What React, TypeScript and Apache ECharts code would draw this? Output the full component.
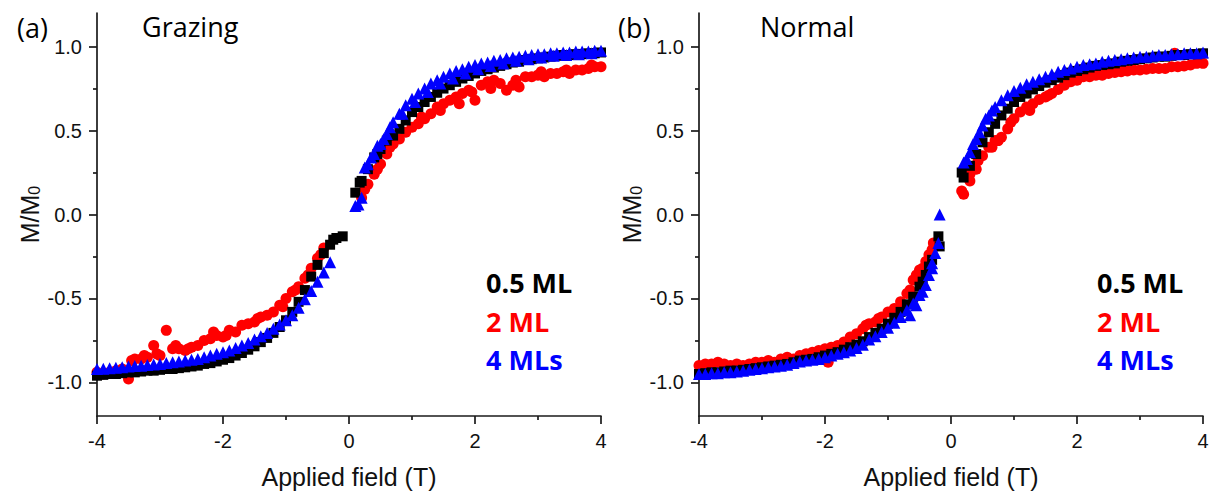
import React, { useEffect, useRef } from "react";
import * as echarts from "echarts";

// Applied field values (T), shared by all series
const fields = [
  -4.0, -3.9, -3.8, -3.7, -3.6, -3.5, -3.4, -3.3, -3.2, -3.1,
  -3.0, -2.9, -2.8, -2.7, -2.6, -2.5, -2.4, -2.3, -2.2, -2.1,
  -2.0, -1.9, -1.8, -1.7, -1.6, -1.5, -1.4, -1.3, -1.2, -1.1,
  -1.0, -0.9, -0.8, -0.7, -0.6, -0.5, -0.4, -0.3, -0.2, -0.1,
  0.1, 0.2, 0.3, 0.4, 0.5, 0.6, 0.7, 0.8, 0.9, 1.0,
  1.1, 1.2, 1.3, 1.4, 1.5, 1.6, 1.7, 1.8, 1.9, 2.0,
  2.1, 2.2, 2.3, 2.4, 2.5, 2.6, 2.7, 2.8, 2.9, 3.0,
  3.1, 3.2, 3.3, 3.4, 3.5, 3.6, 3.7, 3.8, 3.9, 4.0,
];

// (a) Grazing
const grazingBlack = [
  -0.96, -0.955, -0.95, -0.95, -0.945, -0.94, -0.94, -0.935, -0.93, -0.93,
  -0.925, -0.92, -0.92, -0.915, -0.91, -0.905, -0.9, -0.89, -0.885, -0.875,
  -0.865, -0.855, -0.84, -0.825, -0.805, -0.785, -0.76, -0.735, -0.705, -0.67,
  -0.63, -0.58, -0.52, -0.45, -0.37, -0.3, -0.23, -0.18, -0.14, -0.13,
  0.13, 0.2, 0.27, 0.34, 0.39, 0.44, 0.47, 0.51, 0.56, 0.61,
  0.64, 0.67, 0.7, 0.725, 0.75, 0.77, 0.79, 0.81, 0.825, 0.84,
  0.855, 0.865, 0.875, 0.885, 0.895, 0.905, 0.91, 0.92, 0.925, 0.93,
  0.935, 0.94, 0.945, 0.95, 0.95, 0.955, 0.955, 0.96, 0.96, 0.965,
];
const grazingRed = [
  -0.94, -0.95, -0.94, -0.93, -0.92, -0.98, -0.86, -0.86, -0.85, -0.78,
  -0.84, -0.69, -0.8, -0.8, -0.81, -0.79, -0.78, -0.75, -0.74, -0.72,
  -0.73, -0.69, -0.7, -0.66, -0.65, -0.64, -0.61, -0.6, -0.58, -0.54,
  -0.5, -0.46, -0.43, -0.38, -0.32, -0.26, -0.2, null, null, null,
  null, 0.1, 0.18, 0.24, 0.3, 0.36, 0.42, 0.45, 0.49, 0.52,
  0.54, 0.57, 0.6, 0.64, 0.66, 0.68, 0.7, 0.72, 0.74, 0.68,
  0.77, 0.79, 0.8, 0.78, 0.74, 0.77, 0.76, 0.82, 0.82, 0.83,
  0.82, 0.84, 0.84, 0.85, 0.84, 0.86, 0.86, 0.87, 0.88, 0.88,
];
const grazingBlue = [
  -0.92, -0.918, -0.915, -0.912, -0.91, -0.905, -0.902, -0.9, -0.897, -0.893,
  -0.89, -0.885, -0.88, -0.875, -0.87, -0.865, -0.86, -0.85, -0.84, -0.83,
  -0.82, -0.81, -0.795, -0.78, -0.765, -0.745, -0.725, -0.705, -0.68, -0.655,
  -0.63, -0.6, -0.555, -0.505, -0.455, -0.4, -0.345, -0.285, null, null,
  0.05, 0.1, 0.3, 0.36, 0.42, 0.48, 0.55, 0.6, 0.65, 0.69,
  0.72, 0.75, 0.78, 0.8, 0.82, 0.84, 0.855, 0.865, 0.88, 0.89,
  0.9, 0.905, 0.915, 0.92, 0.93, 0.935, 0.94, 0.945, 0.95, 0.955,
  0.955, 0.96, 0.96, 0.965, 0.965, 0.97, 0.97, 0.97, 0.975, 0.975,
];
const grazingBlackExtra = [[0.17, 0.19], [-0.25, -0.15], [0.45, 0.36]];
const grazingRedExtra = [
  [-3.45, -0.87], [-3.25, -0.84], [-3.05, -0.83], [-2.75, -0.78], [-2.55, -0.8],
  [-2.15, -0.7], [-1.95, -0.72], [-1.45, -0.62], [-1.05, -0.55], [-0.85, -0.45],
  [-0.65, -0.36], [-0.45, -0.24], [0.25, 0.15], [0.45, 0.27], [0.65, 0.4],
  [1.15, 0.58], [1.45, 0.62], [1.75, 0.66], [1.95, 0.73], [2.25, 0.75],
  [2.65, 0.8], [3.05, 0.85], [3.45, 0.86], [3.85, 0.89],
];
const grazingBlueExtra = [
  [0.15, 0.06], [0.25, 0.28], [0.35, 0.34], [0.45, 0.41], [0.55, 0.45],
  [0.65, 0.52], [0.85, 0.6], [1.05, 0.67], [1.25, 0.73], [1.45, 0.78],
  [1.65, 0.81], [1.85, 0.84], [2.05, 0.865], [2.25, 0.885], [2.45, 0.9],
  [2.65, 0.915], [2.85, 0.925], [3.05, 0.935], [3.25, 0.945], [3.45, 0.95],
  [3.65, 0.955], [3.85, 0.96],
];

// (b) Normal
const normalBlack = [
  -0.95, -0.945, -0.94, -0.94, -0.935, -0.93, -0.93, -0.925, -0.92, -0.915,
  -0.91, -0.905, -0.9, -0.895, -0.89, -0.88, -0.87, -0.865, -0.86, -0.85,
  -0.84, -0.83, -0.82, -0.805, -0.79, -0.775, -0.755, -0.73, -0.705, -0.68,
  -0.65, -0.615, -0.58, -0.535, -0.49, -0.43, -0.36, -0.27, -0.13, null,
  null, 0.22, 0.29, 0.36, 0.43, 0.49, 0.54, 0.59, 0.63, 0.67,
  0.7, 0.72, 0.745, 0.765, 0.785, 0.8, 0.815, 0.83, 0.845, 0.855,
  0.865, 0.875, 0.885, 0.89, 0.895, 0.9, 0.91, 0.915, 0.92, 0.925,
  0.93, 0.935, 0.94, 0.94, 0.945, 0.95, 0.95, 0.955, 0.955, 0.96,
];
const normalRed = [
  -0.9, -0.89, -0.89, -0.88, -0.89, -0.9, -0.89, -0.9, -0.89, -0.88,
  -0.88, -0.87, -0.88, -0.86, -0.85, -0.86, -0.84, -0.83, -0.82, -0.81,
  -0.8, -0.79, -0.78, -0.76, -0.73, -0.71, -0.68, -0.65, -0.64, -0.61,
  -0.58, -0.56, -0.52, -0.47, -0.39, -0.33, -0.28, -0.21, null, null,
  null, 0.12, 0.2, 0.27, 0.35, 0.4, 0.44, 0.46, 0.51, 0.57,
  0.61, 0.64, 0.66, 0.685, 0.7, 0.72, 0.745, 0.77, 0.79, 0.8,
  0.82, 0.82, 0.83, 0.83, 0.84, 0.845, 0.85, 0.855, 0.86, 0.86,
  0.865, 0.87, 0.87, 0.87, 0.88, 0.88, 0.885, 0.89, 0.9, 0.9,
];
const normalBlue = [
  -0.95, -0.95, -0.945, -0.945, -0.94, -0.94, -0.935, -0.93, -0.925, -0.92,
  -0.915, -0.91, -0.905, -0.9, -0.895, -0.885, -0.875, -0.87, -0.865, -0.86,
  -0.85, -0.84, -0.83, -0.82, -0.81, -0.795, -0.775, -0.745, -0.725, -0.7,
  -0.675, -0.645, -0.61, -0.57, -0.53, -0.48, -0.42, -0.32, -0.17, null,
  null, 0.31, 0.37, 0.45, 0.53, 0.59, 0.64, 0.68, 0.71, 0.735,
  0.755, 0.775, 0.79, 0.805, 0.82, 0.835, 0.85, 0.86, 0.87, 0.88,
  0.89, 0.895, 0.9, 0.91, 0.915, 0.92, 0.925, 0.93, 0.935, 0.94,
  0.94, 0.945, 0.95, 0.95, 0.955, 0.955, 0.96, 0.96, 0.96, 0.965,
];
const normalBlackExtra = [[0.17, 0.25], [-0.18, -0.19], [-0.35, -0.31], [-0.45, -0.4]];
const normalRedExtra = [
  [-3.95, -0.93], [-3.55, -0.92], [-1.95, -0.88], [-1.35, -0.66], [-1.15, -0.62],
  [-0.65, -0.45], [-0.55, -0.36], [-0.45, -0.32], [-0.35, -0.24], [-0.28, -0.17],
  [0.17, 0.14], [0.3, 0.24], [0.43, 0.32], [0.65, 0.4], [0.75, 0.44],
  [0.95, 0.55], [1.25, 0.62], [1.55, 0.71], [2.45, 0.85], [2.75, 0.87], [3.55, 0.96],
];
const normalBlueExtra = [
  [-0.18, 0.0], [-0.25, -0.23], [-0.3, -0.29], [-0.35, -0.36], [-0.45, -0.46],
  [-0.55, -0.54], [-0.65, -0.6], [0.25, 0.33], [0.35, 0.42], [0.45, 0.49],
  [0.55, 0.57], [0.65, 0.62],
];

const yLabelValues = [-1, -0.5, 0, 0.5, 1];
const yMinorValues = [-0.75, -0.25, 0.25, 0.75];
const legendLabels = ["0.5 ML", "2 ML", "4 MLs"];
const panelTags = ["(a)", "(b)"];
const panelTitles = ["Grazing", "Normal"];

const COLORS = ["#000000", "#ff0000", "#0000ff"];
const AXIS_COLOR = "#1a1a1a";
const TICK_FONT = "Liberation Sans";
const TITLE_FONT = "Open Sans";

function toPairs(ys: (number | null)[], extra: number[][]) {
  const out: number[][] = [];
  fields.forEach((x, i) => {
    const y = ys[i];
    if (y !== null && y !== undefined) out.push([x, y]);
  });
  return out.concat(extra);
}

export default function App() {
  const ref = useRef<HTMLDivElement>(null);

  useEffect(() => {
    if (!ref.current) return;
    const chart = echarts.init(ref.current, undefined, {
      renderer: "svg",
      width: 1214,
      height: 494,
    });

    const grids = [
      { left: 97, top: 13, width: 504, height: 405 },
      { left: 699, top: 13, width: 504, height: 405 },
    ];
    const lineStyle = { color: AXIS_COLOR, width: 1.7 };

    const xAxes = grids.map((_, g) => ({
      gridIndex: g,
      type: "value",
      min: -4,
      max: 4,
      interval: 2,
      axisLine: { show: true, onZero: false, lineStyle },
      axisTick: { show: true, length: 8, lineStyle },
      minorTick: { show: true, splitNumber: 2, length: 4, lineStyle },
      splitLine: { show: false },
      minorSplitLine: { show: false },
      axisLabel: {
        margin: 15,
        fontSize: 20,
        fontFamily: TICK_FONT,
        color: "#111",
        formatter: (v: number) => String(v),
      },
      name: "Applied field (T)",
      nameLocation: "middle",
      nameGap: 48,
      nameTextStyle: { fontSize: 25, fontFamily: TICK_FONT, color: "#111" },
    }));

    const yAxes: any[] = [];
    grids.forEach((_, g) => {
      yAxes.push({
        gridIndex: g,
        type: "value",
        position: "left",
        min: -1.2,
        max: 1.2,
        axisLine: { show: true, onZero: false, lineStyle },
        axisTick: { show: true, length: 8, lineStyle, customValues: yLabelValues },
        splitLine: { show: false },
        axisLabel: {
          customValues: yLabelValues,
          margin: 15,
          fontSize: 20,
          fontFamily: TICK_FONT,
          color: "#111",
          formatter: (v: number) => v.toFixed(1),
        },
        name: "{a|M/M}{b|0}",
        nameLocation: "middle",
        nameGap: 55,
        nameRotate: 90,
        nameTextStyle: {
          rich: {
            a: {
              fontSize: 25,
              fontFamily: TICK_FONT,
              color: "#111",
              lineHeight: 25,
              verticalAlign: "top",
            },
            b: {
              fontSize: 16,
              fontFamily: TICK_FONT,
              color: "#111",
              lineHeight: 16,
              verticalAlign: "bottom",
              padding: [15, 0, 0, 0],
            },
          },
        },
      });
      yAxes.push({
        gridIndex: g,
        type: "value",
        position: "left",
        min: -1.2,
        max: 1.2,
        axisLine: { show: false, onZero: false },
        axisTick: { show: true, length: 4, lineStyle, customValues: yMinorValues },
        axisLabel: { show: false },
        splitLine: { show: false },
      });
    });

    const panels = [
      { black: grazingBlack, red: grazingRed, blue: grazingBlue, be: grazingBlackExtra, re: grazingRedExtra, ue: grazingBlueExtra },
      { black: normalBlack, red: normalRed, blue: normalBlue, be: normalBlackExtra, re: normalRedExtra, ue: normalBlueExtra },
    ];

    const series: any[] = [];
    panels.forEach((p, g) => {
      const common = { type: "scatter", xAxisIndex: g, yAxisIndex: g * 2, silent: true };
      series.push({ ...common, name: legendLabels[1], symbol: "circle", symbolSize: 11, itemStyle: { color: COLORS[1], opacity: 1 }, data: toPairs(p.red, p.re) });
      series.push({ ...common, name: legendLabels[0], symbol: "rect", symbolSize: 10, itemStyle: { color: COLORS[0], opacity: 1 }, data: toPairs(p.black, p.be) });
      series.push({ ...common, name: legendLabels[2], symbol: "triangle", symbolSize: 12, itemStyle: { color: COLORS[2], opacity: 1 }, data: toPairs(p.blue, p.ue) });
    });

    const graphic: any[] = [];
    const tagX = [17, 618];
    const titleX = [142, 760];
    const legendX = [486, 1097];
    const legendY = [282, 321, 359];
    grids.forEach((_, g) => {
      graphic.push({
        type: "text",
        x: tagX[g],
        y: 27,
        style: { text: panelTags[g], fontSize: 27, fontFamily: TITLE_FONT, fill: "#000", align: "left", verticalAlign: "middle" },
      });
      graphic.push({
        type: "text",
        x: titleX[g],
        y: 26,
        style: { text: panelTitles[g], fontSize: 27, fontFamily: TITLE_FONT, fill: "#000", align: "left", verticalAlign: "middle" },
      });
      legendLabels.forEach((lbl, i) => {
        graphic.push({
          type: "text",
          x: legendX[g],
          y: legendY[i],
          style: { text: lbl, fontSize: 27, fontWeight: "bold", fontFamily: TITLE_FONT, fill: COLORS[i], align: "left", verticalAlign: "middle" },
        });
      });
    });

    chart.setOption({
      animation: false,
      backgroundColor: "#ffffff",
      grid: grids,
      xAxis: xAxes,
      yAxis: yAxes,
      series,
      graphic,
    });

    return () => chart.dispose();
  }, []);

  return (
    <div
      ref={ref}
      style={{ position: "absolute", left: 0, top: 0, width: 1214, height: 494 }}
    />
  );
}
